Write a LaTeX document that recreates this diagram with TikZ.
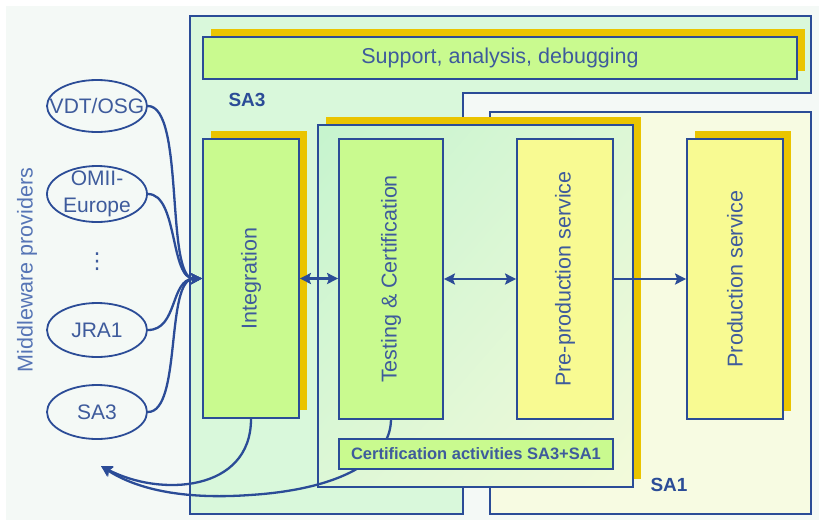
\documentclass[tikz,border=0pt]{standalone}
\usepackage{fontspec}
\setmainfont{Liberation Sans}
\newfontfamily\symfont{DejaVu Sans}
\usetikzlibrary{arrows.meta,shapes.geometric,shadings}

\definecolor{edge}{HTML}{2B4C97}
\definecolor{ink}{HTML}{3E5B9C}
\definecolor{softink}{HTML}{5574B5}
\definecolor{shadowyellow}{HTML}{EAC400}
\definecolor{greenfill}{HTML}{C9FA8F}
\definecolor{yellowfill}{HTML}{F8FA92}
\definecolor{pagebg}{HTML}{F4F9F6}
\definecolor{sathree}{HTML}{D9F8DB}
\definecolor{saone}{HTML}{F7FBE2}
\definecolor{groupgreen}{HTML}{C6F4CE}
\definecolor{groupmid}{HTML}{DDF7D6}
\definecolor{groupyellow}{HTML}{F3FADA}

\tikzset{
  boxline/.style={draw=edge, line width=1.8pt},
  greenbox/.style={boxline, fill=greenfill, inner sep=0pt},
  yellowbox/.style={boxline, fill=yellowfill, inner sep=0pt},
  shadowfill/.style={fill=shadowyellow},
  provtext/.style={text=ink, align=center, inner sep=0pt, font=\fontsize{21}{27}\selectfont},
  provider/.style={ellipse, draw=edge, line width=1.8pt, minimum width=100pt,
    minimum height=52pt, inner sep=0pt, label={[provtext]center:#1}},
  vlabel/.style={rotate=90, text=ink, inner sep=0pt, font=\fontsize{21.5}{24}\selectfont},
  arealabel/.style={text=edge, inner sep=0pt, font=\bfseries\fontsize{19}{19}\selectfont},
  link/.style={draw=edge, line width=2.3pt},
  >={Stealth[length=11pt,width=11pt,inset=2pt]}
}

\begin{document}
\begin{tikzpicture}[x=1pt,y=-1pt]
\useasboundingbox (0,0) rectangle (819,523);
% page background
\fill[pagebg] (6,6) rectangle (819,520);

% SA3 area (L-shaped) and SA1 area
\filldraw[fill=sathree, draw=edge, line width=1.6pt]
  (190,16) -- (811,16) -- (811,93) -- (463,93) -- (463,514) -- (190,514) -- cycle;
\filldraw[fill=saone, draw=edge, line width=1.6pt] (490,112) rectangle (811,514);

% support bar
\fill[shadowfill] (211,29) rectangle (805,71);
\node[greenbox, minimum width=594pt, minimum height=42pt] (support) at (500,58) {};
\node[text=ink, font=\fontsize{21.5}{24}\selectfont] (supportT) at (support.center) {Support, analysis, debugging};

\node[arealabel] (sa3label) at (247,100) {SA3};
\node[arealabel] (sa1label) at (669,485) {SA1};

% integration
\fill[shadowfill] (211,131) rectangle (307,410);
\node[greenbox, minimum width=96pt, minimum height=279pt] (int) at (251,278.5) {};
\node[vlabel] (intT) at (int.center) {Integration};

% certification group shared by SA3 and SA1
\fill[shadowfill] (326,117) rectangle (641,479);
\node[draw=edge, line width=1.8pt, inner sep=0pt, minimum width=315pt, minimum height=362pt,
  upper left=groupgreen, upper right=groupmid, lower left=groupmid, lower right=groupyellow]
  (group) at (475.5,306) {};

\node[greenbox, minimum width=104pt, minimum height=280pt] (test) at (391,279) {};
\node[vlabel] (testT) at (test.center) {Testing \& Certification};

\node[yellowbox, minimum width=96pt, minimum height=280pt] (pre) at (565,279) {};
\node[vlabel] (preT) at (pre.center) {Pre-production service};

\fill[shadowfill] (695,131) rectangle (791,411);
\node[yellowbox, minimum width=96pt, minimum height=280pt] (prod) at (735,279) {};
\node[vlabel] (prodT) at (prod.center) {Production service};

% feedback to the middleware providers
\coordinate (back) at (101,466);
\draw[link, ->] (int.south) .. controls (251,492) and (160,497) .. (back);
\draw[link, ->] (test.south) .. controls (390,465) and (330,490) .. (250,495)
  .. controls (180,500) and (135,488) .. (back);

\node[greenbox, minimum width=274pt, minimum height=30pt] (certact) at (476,454) {};
\node[text=ink, font=\bfseries\fontsize{16.5}{18}\selectfont] (certactT) at (certact.center)
  {Certification activities SA3+SA1};

% middleware providers
\node[provider={VDT/OSG}] (vdt) at (97,106) {};
\node[provider={OMII-\\Europe}, minimum height=56pt] (omii) at (97,194) {};
\node[text=ink, font=\symfont\fontsize{22}{22}\selectfont] (dots) at (97,262) {⋮};
\node[provider={JRA1}, minimum height=54pt] (jra) at (97,330) {};
\node[provider={SA3}, minimum height=54pt] (sa3) at (97,412) {};
\node[vlabel, text=softink] (mw) at (27,270) {Middleware providers};

\draw[link, ->] (vdt.east) .. controls (185,106) and (165,279) .. (int.west);
\draw[link, ->] (omii.east) .. controls (178,194) and (170,279) .. (int.west);
\draw[link, ->] (jra.east) .. controls (178,330) and (170,279) .. (int.west);
\draw[link, ->] (sa3.east) .. controls (182,412) and (165,279) .. (int.west);

% flow between the stages
\draw[link, <->] (int.east) -- (int.east -| test.west);
\draw[link, <->] (test.east) -- (test.east -| pre.west);
\draw[link, ->] (pre.east) -- (pre.east -| prod.west);
\end{tikzpicture}
\end{document}
